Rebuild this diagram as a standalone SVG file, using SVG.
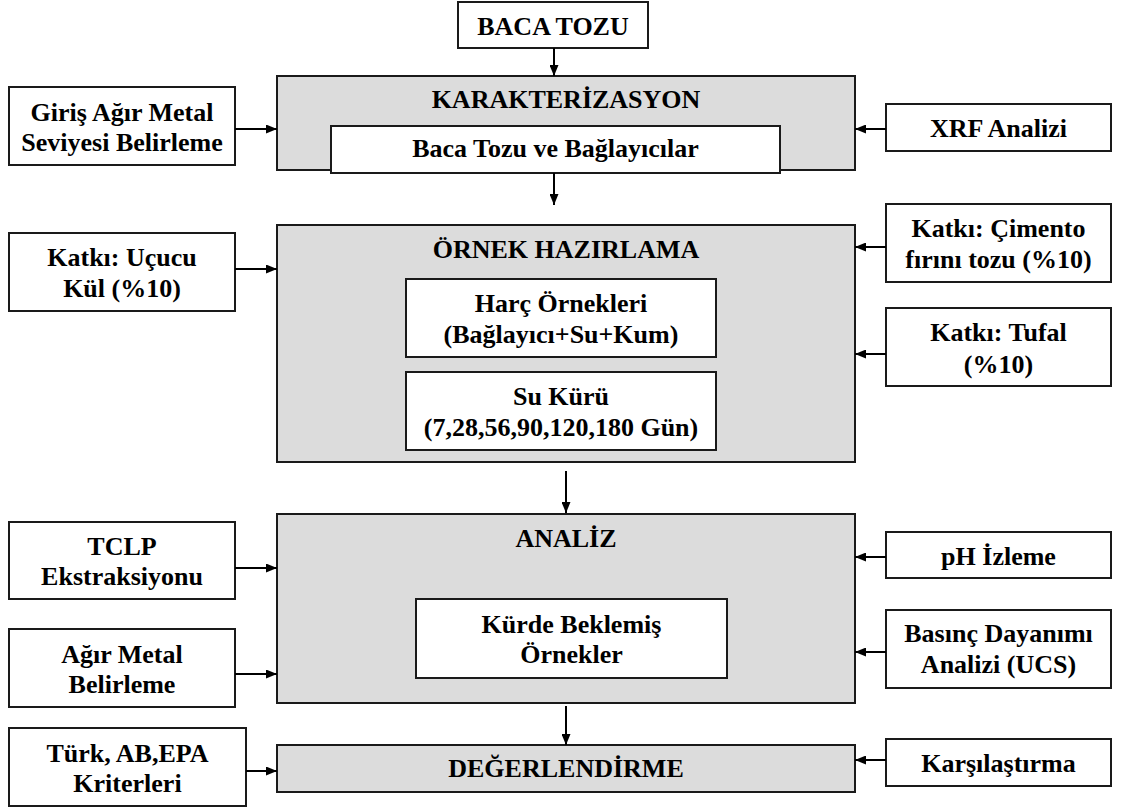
<svg xmlns="http://www.w3.org/2000/svg" width="1126" height="811" viewBox="0 0 1126 811">
<defs>
<marker id="ah" markerUnits="userSpaceOnUse" markerWidth="11" markerHeight="9" refX="11" refY="4.5" orient="auto">
<path d="M0,0 L11,4.5 L0,9 z" fill="#000"/>
</marker>
</defs>
<style>
.box{fill:#fff;stroke:#1a1a1a;stroke-width:2}
.grey{fill:#dcdcdc;stroke:#1a1a1a;stroke-width:2}
text{font-family:"Liberation Serif","Times New Roman",serif;font-weight:bold;font-size:26px;fill:#000;text-anchor:middle}
.conn line{stroke:#000;stroke-width:2;marker-end:url(#ah)}
</style>
<rect width="1126" height="811" fill="#fff"/>
<g id="baca-tozu"><rect class="box" x="458" y="2" width="190" height="46"/><text x="553" y="35">BACA TOZU</text></g>
<g id="karakterizasyon"><rect class="grey" x="277" y="76" width="578" height="94"/><text x="566" y="108">KARAKTERİZASYON</text></g>
<g id="baca-tozu-baglayicilar"><rect class="box" x="331" y="126" width="449" height="47"/><text x="555.5" y="157">Baca Tozu ve Bağlayıcılar</text></g>
<g id="giris"><rect class="box" x="9" y="87" width="226" height="78"/><text x="122" y="121">Giriş Ağır Metal</text><text x="122" y="151">Seviyesi Belirleme</text></g>
<g id="xrf"><rect class="box" x="886" y="104" width="225" height="47"/><text x="998.5" y="137">XRF Analizi</text></g>
<g id="ornek-hazirlama"><rect class="grey" x="277" y="225" width="578" height="237"/><text x="566" y="258">ÖRNEK HAZIRLAMA</text></g>
<g id="harc"><rect class="box" x="406" y="279" width="310" height="78"/><text x="561" y="312">Harç Örnekleri</text><text x="561" y="343">(Bağlayıcı+Su+Kum)</text></g>
<g id="su-kuru"><rect class="box" x="406" y="372" width="310" height="78"/><text x="561" y="405">Su Kürü</text><text x="561" y="436">(7,28,56,90,120,180 Gün)</text></g>
<g id="ucucu-kul"><rect class="box" x="9" y="233" width="226" height="78"/><text x="122" y="266">Katkı: Uçucu</text><text x="122" y="297">Kül (%10)</text></g>
<g id="cimento"><rect class="box" x="886" y="204" width="225" height="78"/><text x="998.5" y="237">Katkı: Çimento</text><text x="998.5" y="268">fırını tozu (%10)</text></g>
<g id="tufal"><rect class="box" x="886" y="308" width="225" height="78"/><text x="998.5" y="341">Katkı: Tufal</text><text x="998.5" y="373">(%10)</text></g>
<g id="analiz"><rect class="grey" x="277" y="514" width="578" height="189"/><text x="566" y="547">ANALİZ</text></g>
<g id="kurde"><rect class="box" x="416" y="599" width="311" height="79"/><text x="571.5" y="633">Kürde Beklemiş</text><text x="571.5" y="663">Örnekler</text></g>
<g id="tclp"><rect class="box" x="9" y="522" width="226" height="77"/><text x="122" y="555">TCLP</text><text x="122" y="585">Ekstraksiyonu</text></g>
<g id="agir-metal"><rect class="box" x="9" y="629" width="226" height="78"/><text x="122" y="663">Ağır Metal</text><text x="122" y="693">Belirleme</text></g>
<g id="ph"><rect class="box" x="886" y="532" width="225" height="46"/><text x="998.5" y="565">pH İzleme</text></g>
<g id="basinc"><rect class="box" x="886" y="610" width="225" height="78"/><text x="998.5" y="642">Basınç Dayanımı</text><text x="998.5" y="673">Analizi (UCS)</text></g>
<g id="degerlendirme"><rect class="grey" x="277" y="745" width="578" height="47"/><text x="566" y="777">DEĞERLENDİRME</text></g>
<g id="turk"><rect class="box" x="9" y="728" width="237" height="78"/><text x="127.5" y="762">Türk, AB,EPA</text><text x="127.5" y="792">Kriterleri</text></g>
<g id="karsilastirma"><rect class="box" x="886" y="739" width="225" height="47"/><text x="998.5" y="772">Karşılaştırma</text></g>
<g id="connectors" class="conn">
<line x1="554" y1="48" x2="554" y2="76"/>
<line x1="554" y1="173" x2="554" y2="205"/>
<line x1="566" y1="471" x2="566" y2="513"/>
<line x1="566" y1="706" x2="566" y2="745"/>
<line x1="235" y1="129" x2="277" y2="129"/>
<line x1="886" y1="129" x2="855" y2="129"/>
<line x1="235" y1="269" x2="277" y2="269"/>
<line x1="886" y1="247" x2="855" y2="247"/>
<line x1="886" y1="354" x2="855" y2="354"/>
<line x1="235" y1="568" x2="277" y2="568"/>
<line x1="235" y1="674" x2="277" y2="674"/>
<line x1="886" y1="557" x2="855" y2="557"/>
<line x1="886" y1="652" x2="855" y2="652"/>
<line x1="246" y1="771" x2="277" y2="771"/>
<line x1="886" y1="760" x2="855" y2="760"/>
</g>
</svg>
